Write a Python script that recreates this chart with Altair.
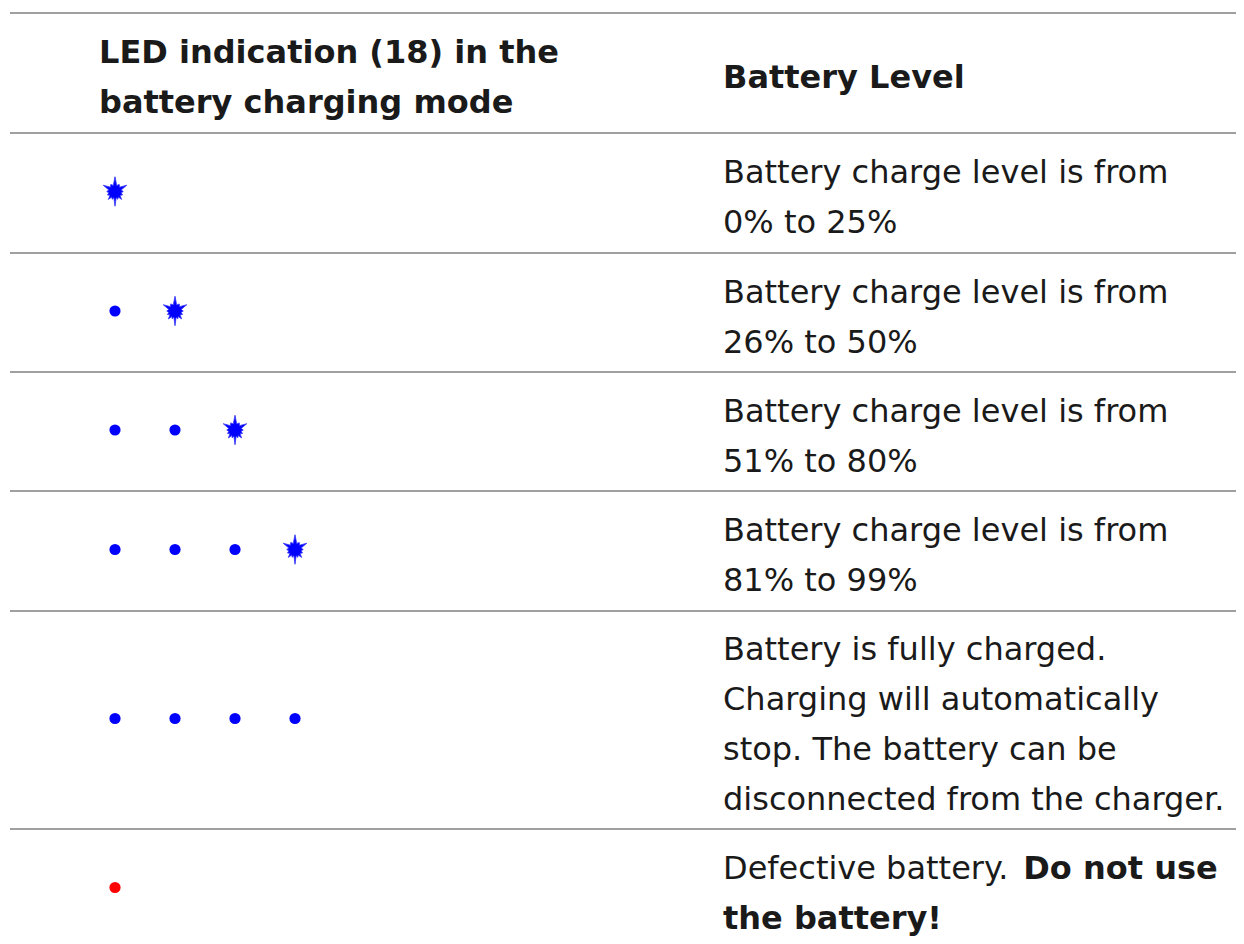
import math
import altair as alt
import pandas as pd

# ---------------- data ----------------
header_left = ["LED indication (18) in the", "battery charging mode"]
header_right = ["Battery Level"]

# each description: list of lines, each line a list of (text, bold) segments
descriptions = [
    [[("Battery charge level is from", False)], [("0% to 25%", False)]],
    [[("Battery charge level is from", False)], [("26% to 50%", False)]],
    [[("Battery charge level is from", False)], [("51% to 80%", False)]],
    [[("Battery charge level is from", False)], [("81% to 99%", False)]],
    [[("Battery is fully charged.", False)],
     [("Charging will automatically", False)],
     [("stop. The battery can be", False)],
     [("disconnected from the charger.", False)]],
    [[("Defective battery. ", False), ("Do not use", True)],
     [("the battery!", True)]],
]
led_steady = [0, 1, 2, 3, 4, 1]      # LEDs lit steadily
led_blinking = [1, 1, 1, 1, 0, 0]    # blinking LED after them
led_color = ["blue", "blue", "blue", "blue", "blue", "red"]

# ---------------- layout / style ----------------
FONT = "DejaVu Sans"
FS = 32
LH = 50
W, H = 1228, 928
TOP = 5
row_heights = [120, 120, 119, 119, 120, 218, 120]
X_LEFT = 91
X_RIGHT = 715
LED_X0 = 107
LED_DX = 60
COLORS = {"blue": "#0000ff", "red": "#ff0000"}
TEXT_COLOR = "#1a1a1a"

# DejaVu Sans advance widths (em) for offsetting inline segments
ADV = {" ": 0.318, ".": 0.318, "D": 0.770, "a": 0.613, "b": 0.635, "c": 0.550,
       "e": 0.615, "f": 0.352, "i": 0.278, "r": 0.411, "t": 0.392, "v": 0.592,
       "y": 0.592}


def seg_width(s):
    return sum(ADV.get(ch, 0.6) for ch in s) * FS


bounds = [TOP]
for h in row_heights:
    bounds.append(bounds[-1] + h)

texts = []


def add_cell(lines, x0, ci):
    n = len(lines)
    base = bounds[ci] + (row_heights[ci] - LH * n) / 2 + 40
    for i, segs in enumerate(lines):
        xo = x0
        for s, b in segs:
            texts.append({"x": xo, "y": base + LH * i, "text": s.strip(),
                          "bold": b})
            xo += seg_width(s)


add_cell([[(l, True)] for l in header_left], X_LEFT, 0)
add_cell([[(l, True)] for l in header_right], X_RIGHT, 0)
for r, lines in enumerate(descriptions):
    add_cell(lines, X_RIGHT, r + 1)

tdf = pd.DataFrame(texts)
normal_df = tdf[~tdf["bold"]]
bold_df = tdf[tdf["bold"]]

icons = []
for r in range(len(descriptions)):
    ci = r + 1
    yc = bounds[ci] + row_heights[ci] / 2 - 1.5
    for k in range(led_steady[r]):
        icons.append({"x": LED_X0 + LED_DX * k, "y": yc, "kind": "dot",
                      "color": COLORS[led_color[r]]})
    if led_blinking[r]:
        icons.append({"x": LED_X0 + LED_DX * led_steady[r], "y": yc,
                      "kind": "star", "color": COLORS[led_color[r]]})
idf = pd.DataFrame(icons)

rules_df = pd.DataFrame({"y": bounds[:7], "x": 2, "x2": W + 8})

# star (blinking LED) shape path: (angle from up, radius) of each tip
tips = [(0, 1.0), (31, 0.56), (62, 0.9), (90, 0.56), (115, 0.56), (140, 0.7),
        (160, 0.56), (180, 1.0), (200, 0.56), (220, 0.7), (245, 0.56),
        (270, 0.56), (298, 0.9), (329, 0.56)]
pts = []
for k, (ang, ro) in enumerate(tips):
    a = math.radians(ang)
    pts.append((ro * math.sin(a), -ro * math.cos(a)))
    nxt = tips[(k + 1) % len(tips)][0] + (360 if k == len(tips) - 1 else 0)
    ai = math.radians((ang + nxt) / 2)
    pts.append((0.43 * math.sin(ai), -0.43 * math.cos(ai)))
STAR = "M" + " L".join(f"{x:.3f},{y:.3f}" for x, y in pts) + " Z"

xs = alt.Scale(domain=[0, W], nice=False, zero=False)
ys = alt.Scale(domain=[0, H], nice=False, zero=False, reverse=True)

X = lambda f: alt.X(f, type="quantitative", scale=xs, axis=None)
Y = lambda f: alt.Y(f, type="quantitative", scale=ys, axis=None)

rules = alt.Chart(rules_df).mark_rule(color="#a0a0a0", strokeWidth=2).encode(
    x=X("x"), x2="x2", y=Y("y"))

normal_text = alt.Chart(normal_df).mark_text(
    align="left", baseline="alphabetic", font=FONT, fontSize=FS,
    color=TEXT_COLOR).encode(x=X("x"), y=Y("y"), text="text:N")

bold_text = alt.Chart(bold_df).mark_text(
    align="left", baseline="alphabetic", font=FONT, fontSize=FS,
    fontWeight="bold", color=TEXT_COLOR).encode(x=X("x"), y=Y("y"), text="text:N")

dots = alt.Chart(idf[idf["kind"] == "dot"]).mark_point(
    shape="circle", filled=True, size=125, opacity=1).encode(
    x=X("x"), y=Y("y"), color=alt.Color("color:N", scale=None))

stars = alt.Chart(idf[idf["kind"] == "star"]).mark_point(
    shape=STAR, filled=True, size=870, opacity=1, stroke="#3333ff",
    strokeWidth=0.8).encode(
    x=X("x"), y=Y("y"), color=alt.Color("color:N", scale=None))

chart = alt.layer(rules, normal_text, bold_text, dots, stars).properties(
    width=W, height=H, padding=0, autosize=alt.AutoSizeParams(type="none"),
    background="white"
).configure_view(stroke=None)

chart.save("out.html", embed_options={"renderer": "svg", "actions": False})
